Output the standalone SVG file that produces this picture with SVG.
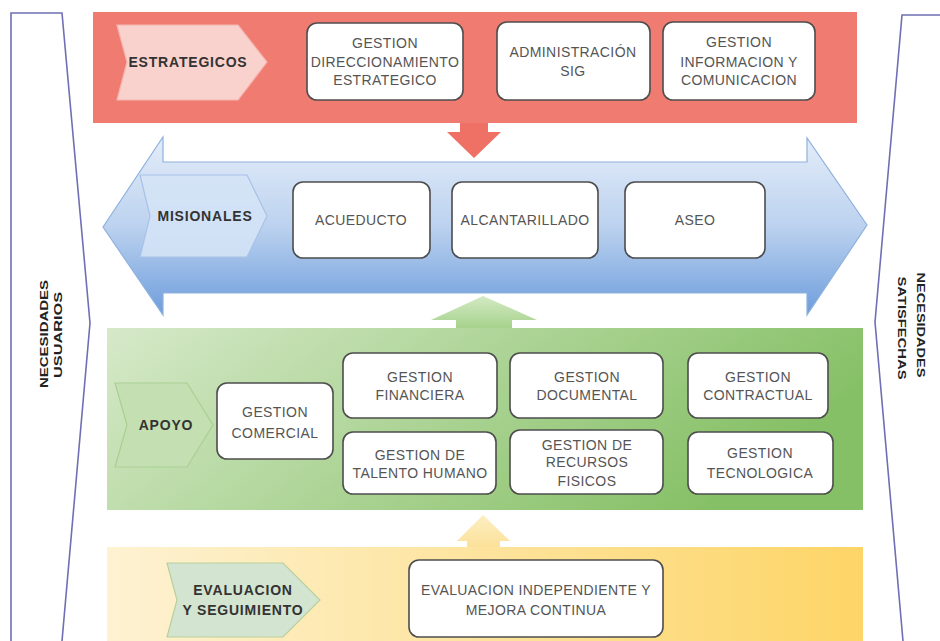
<svg xmlns="http://www.w3.org/2000/svg" width="940" height="641" viewBox="0 0 940 641">
<defs>
<linearGradient id="gBlue" x1="0" y1="0" x2="0" y2="1">
<stop offset="0" stop-color="#e4edf9"/>
<stop offset="0.5" stop-color="#bcd2ef"/>
<stop offset="1" stop-color="#6d9ddc"/>
</linearGradient>
<linearGradient id="gGreen" x1="0" y1="0" x2="1" y2="0.3">
<stop offset="0" stop-color="#d6e9c9"/>
<stop offset="1" stop-color="#86c066"/>
</linearGradient>
<linearGradient id="gYellow" x1="0" y1="0" x2="1" y2="0">
<stop offset="0" stop-color="#fdf2d2"/>
<stop offset="1" stop-color="#fdd567"/>
</linearGradient>
<linearGradient id="gGreenArrow" x1="0" y1="0" x2="0" y2="1">
<stop offset="0" stop-color="#d3eac3"/>
<stop offset="1" stop-color="#a7d28d"/>
</linearGradient>
<linearGradient id="gYellowArrow" x1="0" y1="0" x2="0" y2="1">
<stop offset="0" stop-color="#fdeec2"/>
<stop offset="1" stop-color="#fbe19a"/>
</linearGradient>
</defs>
<style>
.frame{fill:none;stroke:#6f6fb5;stroke-width:1.6}
.box{fill:#ffffff;stroke:#4d4d4d;stroke-width:1.6}
.bt{font-family:"Liberation Sans",Arial,sans-serif;font-size:14px;fill:#555555;text-anchor:middle;letter-spacing:0.4px}
.lbl{font-family:"Liberation Sans",Arial,sans-serif;font-size:14px;font-weight:bold;fill:#333333;text-anchor:middle;letter-spacing:0.8px}
.vt{font-family:"Liberation Sans",Arial,sans-serif;font-size:11px;font-weight:bold;fill:#222222;text-anchor:middle}
</style>
<rect width="940" height="641" fill="#ffffff"/>

<g id="frame-left">
<polyline class="frame" points="11,641 11,13 62,13 90,323 62,641"/>
<text class="vt" transform="translate(48,334) rotate(-90)" textLength="108" lengthAdjust="spacingAndGlyphs">NECESIDADES</text>
<text class="vt" transform="translate(62,335) rotate(-90)" textLength="86" lengthAdjust="spacingAndGlyphs">USUARIOS</text>
</g>
<g id="frame-right">
<polyline class="frame" points="940,15 902,15 875,322 903,641"/>
<text class="vt" transform="translate(917,325) rotate(90)" textLength="105" lengthAdjust="spacingAndGlyphs">NECESIDADES</text>
<text class="vt" transform="translate(898,328) rotate(90)" textLength="103" lengthAdjust="spacingAndGlyphs">SATISFECHAS</text>
</g>

<g id="band-estrategicos">
<rect x="93" y="12" width="764" height="111" fill="#f07c71"/>
<polygon points="117,25 238,25 267,62 238,100 117,100 127,62" fill="#f9d2ce" stroke="#f4b5b0" stroke-width="1.2"/>
<text class="lbl" x="188" y="67">ESTRATEGICOS</text>
</g>
<g id="n-direccionamiento">
<rect class="box" x="307" y="23" width="156" height="77" rx="10"/>
<text class="bt" x="385" y="48">GESTION</text>
<text class="bt" x="385" y="67">DIRECCIONAMIENTO</text>
<text class="bt" x="385" y="85">ESTRATEGICO</text>
</g>
<g id="n-sig">
<rect class="box" x="497" y="22" width="153" height="78" rx="10"/>
<text class="bt" x="573" y="57">ADMINISTRACIÓN</text>
<text class="bt" x="573" y="76">SIG</text>
</g>
<g id="n-informacion">
<rect class="box" x="663" y="22" width="152" height="78" rx="10"/>
<text class="bt" x="739" y="47">GESTION</text>
<text class="bt" x="739" y="67">INFORMACION Y</text>
<text class="bt" x="739" y="85">COMUNICACION</text>
</g>

<g id="band-misionales">
<polygon points="103,227 163,137 163,162 807,162 807,138 867,225 807,315 807,293 163,293 163,315" fill="url(#gBlue)" stroke="#8fb1de" stroke-width="1.2"/>
<polygon points="140,175 247,175 267,216 247,257 140,257 150,216" fill="#d4e3f6" fill-opacity="0.9" stroke="#a8c2e7" stroke-width="1.2"/>
<text class="lbl" x="205" y="221">MISIONALES</text>
</g>
<g id="n-acueducto">
<rect class="box" x="293" y="182" width="137" height="76" rx="10"/>
<text class="bt" x="361" y="225">ACUEDUCTO</text>
</g>
<g id="n-alcantarillado">
<rect class="box" x="452" y="182" width="146" height="76" rx="10"/>
<text class="bt" x="525" y="225">ALCANTARILLADO</text>
</g>
<g id="n-aseo">
<rect class="box" x="625" y="182" width="140" height="76" rx="10"/>
<text class="bt" x="695" y="225">ASEO</text>
</g>

<g id="band-apoyo">
<rect x="107" y="328" width="756" height="182" fill="url(#gGreen)"/>
<polygon points="115,383 187,383 213,425 187,467 115,467 127,425" fill="#c4dfb2" stroke="#a9cf93" stroke-width="1.2"/>
<text class="lbl" x="166" y="430">APOYO</text>
</g>
<g id="n-comercial">
<rect class="box" x="217" y="383" width="116" height="76" rx="10"/>
<text class="bt" x="275" y="417">GESTION</text>
<text class="bt" x="275" y="438">COMERCIAL</text>
</g>
<g id="n-financiera">
<rect class="box" x="343" y="353" width="154" height="65" rx="10"/>
<text class="bt" x="420" y="382">GESTION</text>
<text class="bt" x="420" y="400">FINANCIERA</text>
</g>
<g id="n-talento">
<rect class="box" x="343" y="432" width="153" height="62" rx="10"/>
<text class="bt" x="420" y="460">GESTION DE</text>
<text class="bt" x="420" y="478">TALENTO HUMANO</text>
</g>
<g id="n-documental">
<rect class="box" x="510" y="353" width="153" height="65" rx="10"/>
<text class="bt" x="587" y="382">GESTION</text>
<text class="bt" x="587" y="400">DOCUMENTAL</text>
</g>
<g id="n-recursos">
<rect class="box" x="510" y="430" width="153" height="64" rx="10"/>
<text class="bt" x="587" y="450">GESTION DE</text>
<text class="bt" x="587" y="467">RECURSOS</text>
<text class="bt" x="587" y="486">FISICOS</text>
</g>
<g id="n-contractual">
<rect class="box" x="688" y="353" width="140" height="65" rx="10"/>
<text class="bt" x="758" y="382">GESTION</text>
<text class="bt" x="758" y="400">CONTRACTUAL</text>
</g>
<g id="n-tecnologica">
<rect class="box" x="688" y="432" width="145" height="62" rx="10"/>
<text class="bt" x="760" y="458">GESTION</text>
<text class="bt" x="760" y="478">TECNOLOGICA</text>
</g>

<g id="band-evaluacion">
<rect x="107" y="547" width="756" height="94" fill="url(#gYellow)"/>
<polygon points="167,563 283,563 320,600 283,637 167,637 177,600" fill="#d3e4d0" stroke="#b9cf9d" stroke-width="1.2"/>
<text class="lbl" x="243" y="595">EVALUACION</text>
<text class="lbl" x="243" y="615">Y SEGUIMIENTO</text>
</g>
<g id="n-mejora">
<rect class="box" x="409" y="560" width="254" height="77" rx="10"/>
<text class="bt" x="536" y="595">EVALUACION INDEPENDIENTE Y</text>
<text class="bt" x="536" y="615">MEJORA CONTINUA</text>
</g>

<g id="connectors">
<polygon points="460,123 488,123 488,132 501,132 474,158 447,132 460,132" fill="#ef7166"/>
<polygon points="483,296 537,320 512,320 512,328 456,328 456,320 431,320" fill="url(#gGreenArrow)"/>
<polygon points="483,515 510,541 500,541 500,547 467,547 467,541 457,541" fill="url(#gYellowArrow)"/>
</g>
</svg>
